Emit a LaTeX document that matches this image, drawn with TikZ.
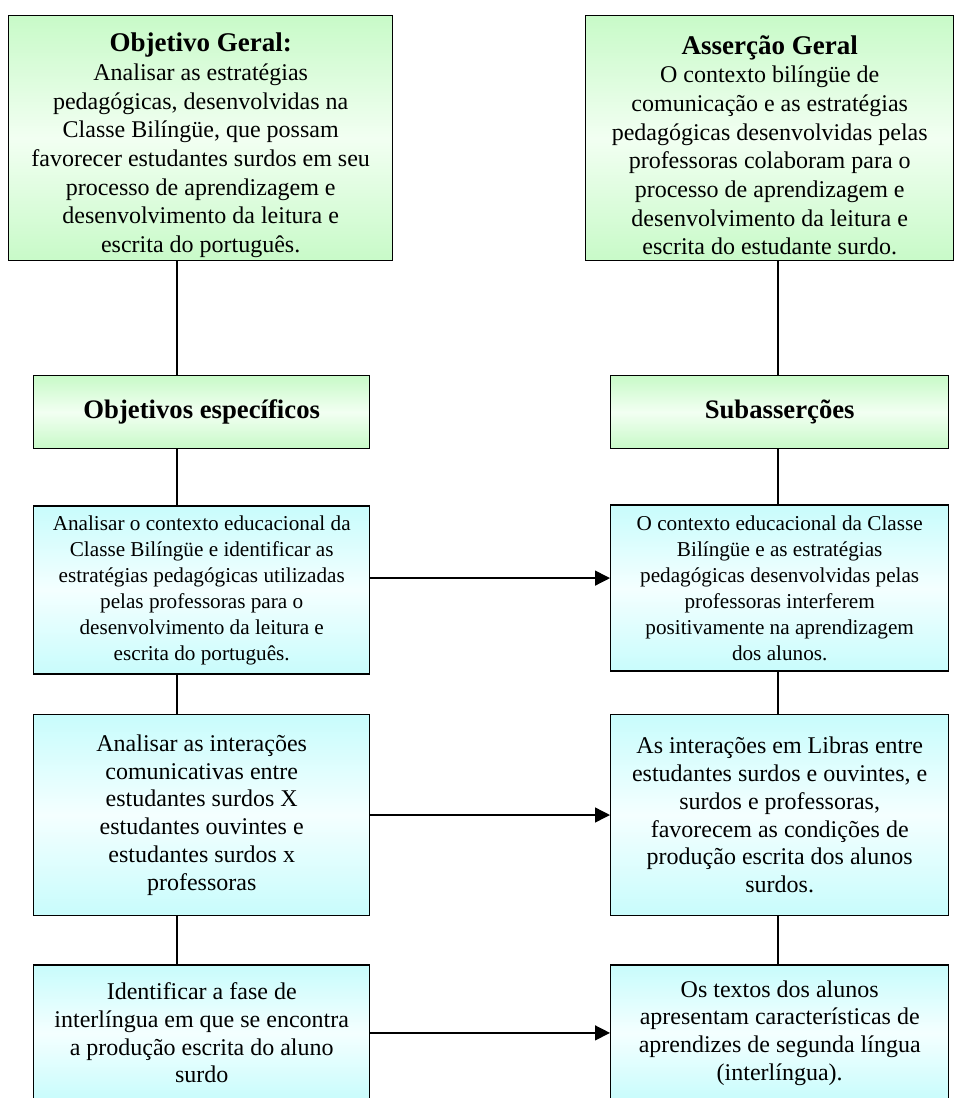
\documentclass[tikz,border=0pt]{standalone}
\usepackage{fontspec}
\setmainfont{Liberation Serif}
\usepackage{xcolor}
\usepackage{tikz}
\usetikzlibrary{arrows.meta,positioning,calc}
\definecolor{mint}{HTML}{C8FAC8}
\definecolor{mintlight}{HTML}{F2FFF2}
\definecolor{aqua}{HTML}{C8FCFC}
\definecolor{aqualight}{HTML}{F4FFFF}
\newcommand{\boxtitle}[1]{\rule{0pt}{33pt}{\fontsize{27}{30}\selectfont\bfseries #1}}
\tikzset{
  genbox/.style={
    draw=black,line width=1.4pt,anchor=north west,
    top color=mint,bottom color=mint,middle color=mintlight,
    inner sep=0pt,align=center,
    font=\fontsize{24}{28.7}\selectfont
  },
  headbox/.style={
    draw=black,line width=1.4pt,anchor=north west,
    top color=mint,bottom color=mint,middle color=mintlight,
    minimum width=336pt,minimum height=73pt,inner sep=0pt,
    align=center,font=\fontsize{26.7}{30}\selectfont\bfseries
  },
  itembox/.style={
    draw=black,line width=1.4pt,
    top color=aqua,bottom color=aqua,middle color=aqualight,
    minimum width=336pt,inner sep=0pt,align=center,
    font=\fontsize{24}{27.7}\selectfont
  },
  smallitem/.style={itembox,font=\fontsize{21.2}{26}\selectfont},
  link/.style={draw=black,line width=1.4pt},
  arrow/.style={-{Triangle[length=15pt,width=15pt]},draw=black,line width=1.4pt}
}

\begin{document}
\begin{tikzpicture}[x=1pt,y=1pt]
\useasboundingbox (0,0) rectangle (956,-1098);

% general level
\node[genbox,minimum width=384pt,minimum height=245pt] (objgeral) at (8,-15)
{\boxtitle{Objetivo Geral:}\\
Analisar as estratégias\\
pedagógicas, desenvolvidas na\\
Classe Bilíngüe, que possam\\
favorecer estudantes surdos em seu\\
processo de aprendizagem e\\
desenvolvimento da leitura e\\
escrita do português.};

\node[genbox,minimum width=368pt,minimum height=245pt] (assgeral) at (585,-15)
{\boxtitle{Asserção Geral}\\
O contexto bilíngüe de\\
comunicação e as estratégias\\
pedagógicas desenvolvidas pelas\\
professoras colaboram para o\\
processo de aprendizagem e\\
desenvolvimento da leitura e\\
escrita do estudante surdo.};

% headings
\node[headbox] (objesp) at (33,-375) {Objetivos específicos};
\node[headbox,minimum width=338pt] (subass) at (610,-375) {Subasserções};

% left column
\node[smallitem,minimum height=168pt,below=56pt of objesp] (obj1)
{Analisar o contexto educacional da\\
Classe Bilíngüe e identificar as\\
estratégias pedagógicas utilizadas\\
pelas professoras para o\\
desenvolvimento da leitura e\\
escrita do português.};

\node[itembox,minimum height=201pt,below=39pt of obj1] (obj2)
{Analisar as interações\\
comunicativas entre\\
estudantes surdos X\\
estudantes ouvintes e\\
estudantes surdos x\\
professoras};

\node[itembox,minimum height=136pt,below=48pt of obj2] (obj3)
{Identificar a fase de\\
interlíngua em que se encontra\\
a produção escrita do aluno\\
surdo};

% right column
\node[smallitem,minimum width=338pt,minimum height=166pt,below=55pt of subass] (sub1)
{O contexto educacional da Classe\\
Bilíngüe e as estratégias\\
pedagógicas desenvolvidas pelas\\
professoras interferem\\
positivamente na aprendizagem\\
dos alunos.};

\node[itembox,minimum width=338pt,minimum height=201pt,below=42pt of sub1] (sub2)
{As interações em Libras entre\\
estudantes surdos e ouvintes, e\\
surdos e professoras,\\
favorecem as condições de\\
produção escrita dos alunos\\
surdos.};

\node[itembox,minimum width=338pt,minimum height=136pt,below=48pt of sub2] (sub3)
{Os textos dos alunos\\
apresentam características de\\
aprendizes de segunda língua\\
(interlíngua).};

\coordinate (lx) at (177,0);
\coordinate (rx) at (778,0);

\draw[link] (objgeral.south -| lx) -- (objesp.north -| lx);
\draw[link] (objesp.south -| lx) -- (obj1.north -| lx);
\draw[link] (obj1.south -| lx) -- (obj2.north -| lx);
\draw[link] (obj2.south -| lx) -- (obj3.north -| lx);

\draw[link] (assgeral.south -| rx) -- (subass.north -| rx);
\draw[link] (subass.south -| rx) -- (sub1.north -| rx);
\draw[link] (sub1.south -| rx) -- (sub2.north -| rx);
\draw[link] (sub2.south -| rx) -- (sub3.north -| rx);

\draw[arrow] ([yshift=12pt]obj1.east) -- ([yshift=12pt]obj1.east -| sub1.west);
\draw[arrow] (obj2.east) -- (obj2.east -| sub2.west);
\draw[arrow] (obj3.east) -- (obj3.east -| sub3.west);
\end{tikzpicture}
\end{document}
